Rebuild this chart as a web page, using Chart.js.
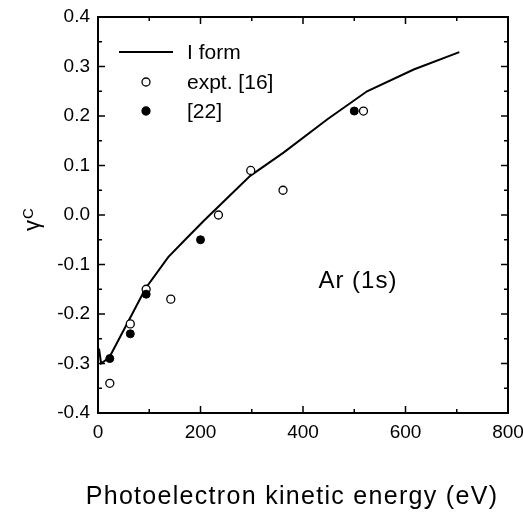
<!DOCTYPE html>
<html>
<head>
<meta charset="utf-8">
<script src="https://cdn.jsdelivr.net/npm/chart.js@4.4.1/dist/chart.umd.min.js"></script>
<style>
  html, body { margin: 0; padding: 0; background: #fff; }
  #wrap { width: 523px; height: 512px; }
</style>
</head>
<body>
<div id="wrap"><canvas id="gammaChart"></canvas></div>
<script>
// l-form calculation (solid line)
const lFormEnergy = [2, 6, 22, 60, 93, 137, 170, 206, 297, 362, 447, 525, 616, 705];
const lFormGamma = [-0.27, -0.30, -0.288, -0.213, -0.148, -0.085, -0.05, -0.012, 0.079, 0.126, 0.193, 0.25, 0.294, 0.329];

// expt. [16] (open circles)
const exptEnergy = [23, 63, 94, 142, 235, 298, 361, 518];
const exptGamma = [-0.34, -0.22, -0.15, -0.17, 0.0, 0.09, 0.05, 0.21];

// [22] (filled circles)
const ref22Energy = [23, 63, 94, 200, 500];
const ref22Gamma = [-0.29, -0.24, -0.16, -0.05, 0.21];

const xTickValues = [0, 200, 400, 600, 800];
const yTickValues = [-0.4, -0.3, -0.2, -0.1, 0.0, 0.1, 0.2, 0.3, 0.4];

const xTitle = "Photoelectron kinetic energy (eV)";
const panelLabel = "Ar (1s)";

const FONT = "'Liberation Sans', Arial, Helvetica, sans-serif";

const toPoints = (xs, ys) => xs.map((v, i) => ({ x: v, y: ys[i] }));

// frame, inward ticks, legend and labels drawn on top of the chart area
const framePlugin = {
  id: "frame",
  afterDraw(chart) {
    const { ctx, chartArea: a, scales } = chart;
    const xs = scales.x, ys = scales.y;
    ctx.save();
    ctx.strokeStyle = "#000";
    ctx.lineWidth = 2;
    ctx.strokeRect(a.left, a.top, a.right - a.left, a.bottom - a.top);

    ctx.lineWidth = 1.5;
    ctx.beginPath();
    for (let v = 0; v <= 800; v += 100) {
      const px = xs.getPixelForValue(v);
      const len = xTickValues.includes(v) ? 7 : 4;
      ctx.moveTo(px, a.bottom); ctx.lineTo(px, a.bottom - len);
      ctx.moveTo(px, a.top); ctx.lineTo(px, a.top + len);
    }
    for (let i = 0; i <= 16; i++) {
      const py = ys.getPixelForValue(-0.4 + i * 0.05);
      const len = i % 2 === 0 ? 7 : 4;
      ctx.moveTo(a.left, py); ctx.lineTo(a.left + len, py);
      ctx.moveTo(a.right, py); ctx.lineTo(a.right - len, py);
    }
    ctx.stroke();

    // legend
    const ds = chart.data.datasets;
    const lx = a.left + 21, tx = a.left + 89;
    ctx.font = "21px " + FONT;
    ctx.fillStyle = "#000";
    ctx.textBaseline = "middle";
    ctx.textAlign = "left";
    let ly = a.top + 35;
    ctx.lineWidth = 2;
    ctx.beginPath();
    ctx.moveTo(lx, ly); ctx.lineTo(lx + 54, ly);
    ctx.stroke();
    ctx.fillText(ds[0].label, tx, ly + 1);
    [1, 2].forEach((k, j) => {
      const cy = a.top + 65 + j * 29;
      ctx.beginPath();
      ctx.arc(lx + 27, cy, 4, 0, Math.PI * 2);
      ctx.fillStyle = ds[k].backgroundColor;
      ctx.fill();
      ctx.lineWidth = 1.3;
      ctx.stroke();
      ctx.fillStyle = "#000";
      ctx.fillText(ds[k].label, tx, cy + 1);
    });

    // panel label
    ctx.font = "24px " + FONT;
    ctx.letterSpacing = "1px";
    ctx.textBaseline = "alphabetic";
    ctx.fillText(panelLabel, xs.getPixelForValue(430), ys.getPixelForValue(-0.147));

    // x axis title, a bit wider set than the tick labels
    ctx.font = "25px " + FONT;
    ctx.letterSpacing = "1.3px";
    ctx.textAlign = "center";
    ctx.textBaseline = "middle";
    ctx.fillText(xTitle, 292, 497);
    ctx.letterSpacing = "0px";

    // y axis title: gamma with superscript C
    ctx.textAlign = "left";
    ctx.textBaseline = "alphabetic";
    ctx.translate(39, 231);
    ctx.rotate(-Math.PI / 2);
    ctx.font = "22px " + FONT;
    ctx.fillText("γ", 0, 0);
    const w = ctx.measureText("γ").width;
    ctx.font = "15px " + FONT;
    ctx.fillText("C", w + 1, -6);
    ctx.restore();
  }
};

new Chart(document.getElementById("gammaChart"), {
  type: "scatter",
  data: {
    datasets: [
      {
        label: "I form",
        type: "line",
        data: toPoints(lFormEnergy, lFormGamma),
        borderColor: "#000",
        borderWidth: 2,
        pointRadius: 0,
        tension: 0,
        fill: false,
        order: 3,
      },
      {
        label: "expt. [16]",
        data: toPoints(exptEnergy, exptGamma),
        borderColor: "#000",
        backgroundColor: "#fff",
        borderWidth: 1.3,
        pointRadius: 4,
        order: 2,
      },
      {
        label: "[22]",
        data: toPoints(ref22Energy, ref22Gamma),
        borderColor: "#000",
        backgroundColor: "#000",
        borderWidth: 1,
        pointRadius: 4,
        order: 1,
      },
    ],
  },
  options: {
    responsive: true,
    maintainAspectRatio: false,
    animation: false,
    layout: { padding: { top: 17, right: 15, left: 0, bottom: 0 } },
    plugins: {
      legend: { display: false },
      tooltip: { enabled: false },
    },
    scales: {
      x: {
        type: "linear",
        min: 0,
        max: 800,
        afterBuildTicks: (scale) => {
          scale.ticks = xTickValues.map((v) => ({ value: v }));
        },
        afterFit: (scale) => {
          scale.height = 99;
          scale.paddingLeft = 0;
          scale.paddingRight = 0;
        },
        grid: { display: false, drawTicks: false },
        border: { display: false },
        ticks: {
          color: "#000",
          padding: 8,
          maxRotation: 0,
          font: { family: FONT, size: 19 },
        },
        title: { display: false },
      },
      y: {
        type: "linear",
        min: -0.4,
        max: 0.4,
        afterBuildTicks: (scale) => {
          scale.ticks = yTickValues.map((v) => ({ value: v }));
        },
        afterFit: (scale) => {
          scale.width = 98;
          scale.paddingTop = 0;
          scale.paddingBottom = 0;
        },
        grid: { display: false, drawTicks: false },
        border: { display: false },
        ticks: {
          color: "#000",
          padding: 8,
          font: { family: FONT, size: 19 },
          callback: (v) => (Math.abs(v) < 1e-9 ? 0 : v).toFixed(1),
        },
      },
    },
  },
  plugins: [framePlugin],
});
</script>
</body>
</html>
